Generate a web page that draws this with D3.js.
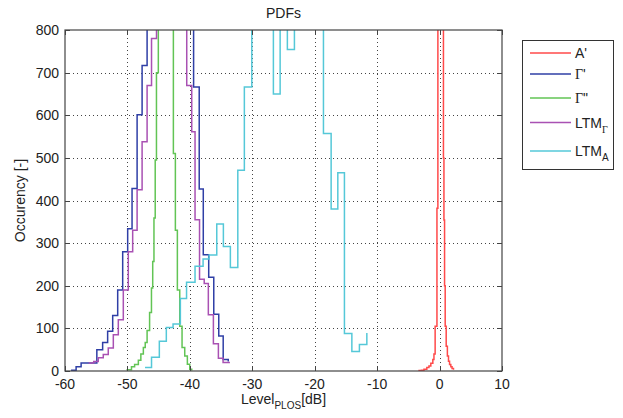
<!DOCTYPE html>
<html>
<head>
<meta charset="utf-8">
<script src="https://cdn.jsdelivr.net/npm/d3@7"></script>
<style>
  body { margin: 0; background: #fff; }
  svg text { font-family: "Liberation Sans", Arial, sans-serif; fill: #222; }
</style>
</head>
<body>
<svg id="chart" width="623" height="418"></svg>
<script>
// axis ticks
const xTicks = [-60, -50, -40, -30, -20, -10, 0, 10];
const yTicks = [0, 100, 200, 300, 400, 500, 600, 700, 800];

// A'  (stairs: x = step position, y = count)
const aX = [-3.4, -2.9, -2.5, -2.04, -1.7, -1.4, -1.08, -0.9, -0.71, -0.42, -0.27, -0.12, 0.03, 0.18, 0.33, 0.48, 0.62, 0.7, 0.8, 0.9, 1.06, 1.25, 1.43, 1.6, 1.8, 2.0, 2.23];
const aY = [1, 2, 4, 8, 12, 18, 27, 40, 105, 382, 1100, 1500, 1800, 1750, 1450, 1000, 500, 354, 200, 105, 58, 35, 23, 15, 10, 6, 3];

// Γ'
const gpX = [-59.03, -58.22, -57.42, -56.62, -55.82, -54.9, -53.97, -53.17, -52.36, -51.56, -50.76, -49.96, -49.26, -48.45, -47.65, -46.85, -46.05, -45.25, -44.45, -43.65, -42.85, -42.05, -41.25, -40.45, -39.4, -38.5, -37.85, -36.98, -36.17, -35.37, -34.66, -33.85];
const gpY = [2, 10, 19, 19, 19, 50, 67, 93, 130, 190, 280, 334, 428, 601, 717, 860, 950, 1050, 1120, 1150, 1130, 1080, 1000, 920, 666, 427, 273, 220, 133, 82, 27, 22];

// Γ''
const gppX = [-50.15, -49.35, -48.85, -48.25, -47.85, -47.45, -47.15, -46.85, -46.45, -46.15, -45.95, -45.75, -45.55, -45.35, -45.05, -44.7, -44.35, -44.0, -43.65, -43.3, -42.95, -42.64, -42.32, -42.0, -41.62, -41.25, -40.82, -40.4, -40.02, -39.7];
const gppY = [3, 10, 15, 25, 40, 55, 67, 95, 137, 195, 257, 359, 495, 700, 900, 1050, 1150, 1200, 1150, 1050, 900, 510, 330, 190, 105, 55, 35, 16, 4, 1];

// LTM_Γ
const ltmGX = [-56.2, -55.4, -54.67, -53.87, -53.07, -52.26, -51.46, -50.66, -49.86, -49.16, -48.45, -47.65, -46.85, -46.14, -45.34, -44.54, -43.74, -42.94, -42.14, -41.34, -40.5, -39.7, -39.17, -38.45, -37.7, -37.04, -36.23, -35.43, -34.68, -33.7];
const ltmGY = [19, 22, 31, 39, 54, 85, 120, 190, 280, 330, 425, 538, 670, 780, 900, 1000, 1080, 1100, 1060, 950, 670, 561, 355, 215, 205, 132, 64, 30, 20, 18];

// LTM_A
const ltmAX = [-47.18, -46.14, -44.89, -43.77, -42.69, -41.52, -40.53, -39.17, -37.88, -36.92, -35.69, -34.63, -33.51, -32.32, -31.27, -30.08, -28.93, -27.78, -26.62, -25.54, -24.38, -23.25, -22.09, -20.93, -19.77, -18.6, -17.37, -16.3, -15.24, -14.05, -12.84, -11.65];
const ltmAY = [8, 32, 70, 102, 110, 170, 208, 246, 263, 272, 345, 292, 243, 471, 666, 950, 1050, 980, 650, 900, 754, 950, 1000, 960, 880, 557, 380, 465, 88, 46, 62, 89];

const series = [
  {x: aX, y: aY, color: "#ff4a4a", label: [["A'", null]]},
  {x: gpX, y: gpY, color: "#2f3fa6", label: [["Γ", "g"], ["'", null]]},
  {x: gppX, y: gppY, color: "#62c455", label: [["Γ", "g"], ["\"", null]]},
  {x: ltmGX, y: ltmGY, color: "#a951b3", label: [["LTM", null], ["Γ", "gsub"]]},
  {x: ltmAX, y: ltmAY, color: "#55c8d8", label: [["LTM", null], ["A", "sub"]]}
];

const svg = d3.select("#chart");
const pLeft = 65, pRight = 502, pTop = 30, pBottom = 371;

const x = d3.scaleLinear().domain([-60, 10]).range([pLeft, pRight]);
const y = d3.scaleLinear().domain([0, 800]).range([pBottom, pTop]);

svg.append("rect").attr("width", 623).attr("height", 418).attr("fill", "#fff");

svg.append("defs").append("clipPath").attr("id", "plotclip")
  .append("rect").attr("x", pLeft).attr("y", pTop)
  .attr("width", pRight - pLeft).attr("height", pBottom - pTop);

// grid
const grid = svg.append("g").attr("stroke", "#444").attr("stroke-dasharray", "1,3").attr("stroke-width", 1);
grid.selectAll(".gx").data(xTicks.slice(1, -1)).join("line")
  .attr("x1", d => Math.round(x(d)) + 0.5).attr("x2", d => Math.round(x(d)) + 0.5)
  .attr("y1", pTop).attr("y2", pBottom);
grid.selectAll(".gy").data(yTicks.slice(1, -1)).join("line")
  .attr("y1", d => Math.round(y(d)) + 0.5).attr("y2", d => Math.round(y(d)) + 0.5)
  .attr("x1", pLeft).attr("x2", pRight);

// histogram stairs
const line = d3.line().x(d => x(d[0])).y(d => y(d[1])).curve(d3.curveStepAfter);
const plot = svg.append("g").attr("clip-path", "url(#plotclip)");
series.forEach(s => {
  plot.append("path")
    .datum(s.x.map((v, i) => [v, s.y[i]]))
    .attr("d", line)
    .attr("fill", "none")
    .attr("stroke", s.color)
    .attr("stroke-width", 1.5);
});

// box + inward ticks
const axc = "#444";
svg.append("rect").attr("x", pLeft).attr("y", pTop).attr("width", pRight - pLeft).attr("height", pBottom - pTop)
  .attr("fill", "none").attr("stroke", axc).attr("stroke-width", 1.2);
const tk = svg.append("g").attr("stroke", axc).attr("stroke-width", 1);
xTicks.forEach(t => {
  const px = Math.round(x(t)) + 0.5;
  tk.append("line").attr("x1", px).attr("x2", px).attr("y1", pBottom).attr("y2", pBottom - 5);
  tk.append("line").attr("x1", px).attr("x2", px).attr("y1", pTop).attr("y2", pTop + 5);
});
yTicks.forEach(t => {
  const py = Math.round(y(t)) + 0.5;
  tk.append("line").attr("y1", py).attr("y2", py).attr("x1", pLeft).attr("x2", pLeft + 5);
  tk.append("line").attr("y1", py).attr("y2", py).attr("x1", pRight).attr("x2", pRight - 5);
});

// tick labels
svg.append("g").selectAll("text").data(xTicks).join("text")
  .attr("x", d => x(d)).attr("y", 389).attr("text-anchor", "middle")
  .attr("font-size", 14).text(d => d);
svg.append("g").selectAll("text").data(yTicks).join("text")
  .attr("x", pLeft - 6).attr("y", d => y(d) + 5).attr("text-anchor", "end")
  .attr("font-size", 14).text(d => d);

// title + axis labels
svg.append("text").attr("x", (pLeft + pRight) / 2).attr("y", 18).attr("text-anchor", "middle")
  .attr("font-size", 14).text("PDFs");
const xl = svg.append("text").attr("x", (pLeft + pRight) / 2).attr("y", 404).attr("text-anchor", "middle")
  .attr("font-size", 14);
xl.append("tspan").text("Level");
xl.append("tspan").attr("font-size", 10).attr("dy", 5).text("PLOS");
xl.append("tspan").attr("dy", -5).text("[dB]");
svg.append("text").attr("transform", `translate(25,${(pTop + pBottom) / 2}) rotate(-90)`)
  .attr("text-anchor", "middle").attr("font-size", 14).text("Occurency [-]");

// legend
const lg = svg.append("g");
lg.append("rect").attr("x", 522.5).attr("y", 40.5).attr("width", 91).attr("height", 129)
  .attr("fill", "#fff").attr("stroke", "#333").attr("stroke-width", 1);
const rows = [53, 74, 98, 122.5, 151];
series.forEach((s, i) => {
  lg.append("line").attr("x1", 530).attr("x2", 571).attr("y1", rows[i]).attr("y2", rows[i])
    .attr("stroke", s.color).attr("stroke-width", 1.5);
  const t = lg.append("text").attr("x", 575).attr("y", rows[i] + 5).attr("font-size", 14);
  s.label.forEach(([str, kind]) => {
    const sp = t.append("tspan").text(str);
    if (kind === "g") sp.attr("font-family", "Liberation Serif, serif");
    if (kind === "gsub") sp.attr("font-family", "Liberation Serif, serif").attr("font-size", 10).attr("dy", 5);
    if (kind === "sub") sp.attr("font-size", 10).attr("dy", 5);
  });
});
</script>
</body>
</html>
